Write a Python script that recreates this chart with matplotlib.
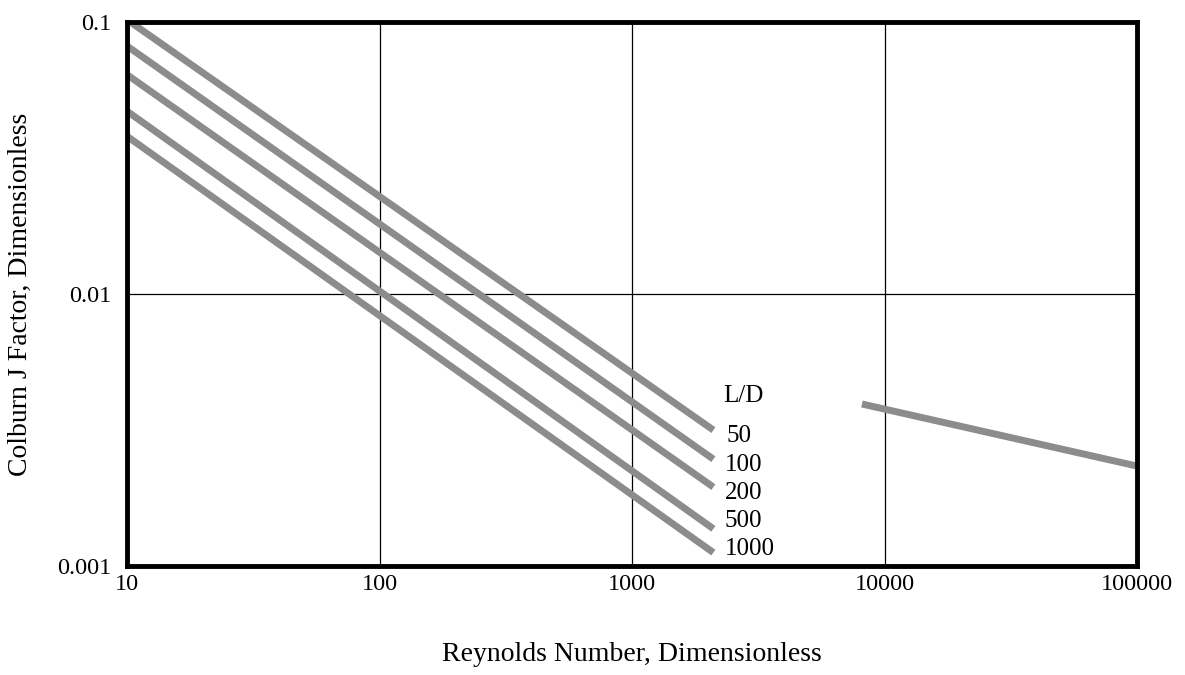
import numpy as np
import matplotlib
matplotlib.use('Agg')
import matplotlib.pyplot as plt

plt.rcParams['font.family'] = ['Liberation Serif', 'DejaVu Serif']

ld_labels = ['50', '100', '200', '500', '1000']
re_lam = [10, 2100]
j_lam = [
    [0.102, 0.00316],
    [0.0816, 0.00247],
    [0.064, 0.00195],
    [0.047, 0.00137],
    [0.038, 0.00112],
]
# where the L/D labels sit (y in J units)
ld_label_y = [0.00301, 0.00235, 0.00185, 0.00146, 0.00115]
ld_title_y = 0.00422

# turbulent line
re_turb = [8140, 100000]
j_turb = [0.00394, 0.00233]

gray = '#8c8c8c'

fig = plt.figure(figsize=(11.85, 6.75), dpi=100)
ax = fig.add_axes([0.1072, 0.1615, 0.8523, 0.8059])

for j in j_lam:
    ax.plot(re_lam, j, color=gray, lw=5, solid_capstyle='butt', zorder=3)
ax.plot(re_turb, j_turb, color=gray, lw=5, solid_capstyle='butt', zorder=3)

ax.set_xscale('log')
ax.set_yscale('log')
ax.set_xlim(10, 100000)
ax.set_ylim(0.001, 0.1)

xt = [10, 100, 1000, 10000, 100000]
yt = [0.001, 0.01, 0.1]
ax.set_xticks(xt)
ax.set_xticklabels(['10', '100', '1000', '10000', '100000'])
ax.set_yticks(yt)
ax.set_yticklabels(['0.001', '0.01', '0.1'])
ax.minorticks_off()
ax.tick_params(length=0, labelsize=17.5)
ax.tick_params(axis='x', pad=6)
ax.tick_params(axis='y', pad=11)
ax.grid(True, color='black', lw=0.9)

for s in ax.spines.values():
    s.set_linewidth(3.5)
    s.set_zorder(5)

# L/D labels next to line ends
ax.text(2290, ld_title_y, 'L/D', fontsize=18, va='center', ha='left')
for i, lab in enumerate(ld_labels):
    x0 = 2370 if i == 0 else 2330
    ax.text(x0, ld_label_y[i], lab, fontsize=18, va='center', ha='left')

ax.set_xlabel('Reynolds Number, Dimensionless', fontsize=20, va='center')
ax.xaxis.set_label_coords(0.5, -0.1636)
ax.set_ylabel('Colburn J Factor, Dimensionless', fontsize=20, va='center')
ax.yaxis.set_label_coords(-0.106, 0.5)

fig.savefig('out.png', dpi=100)
